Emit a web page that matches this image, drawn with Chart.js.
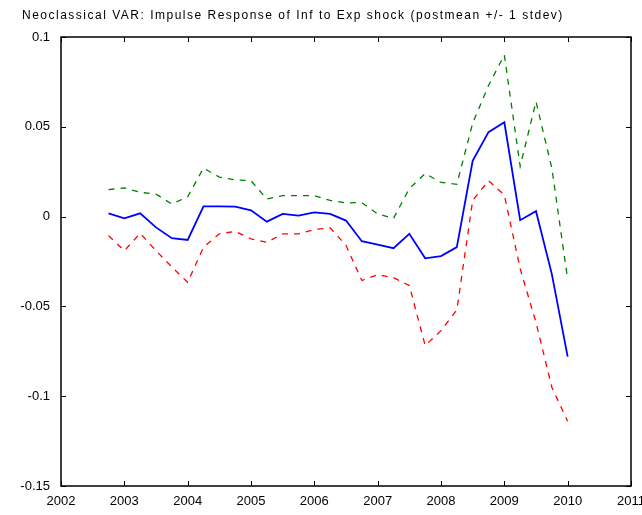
<!DOCTYPE html>
<html>
<head>
<meta charset="utf-8">
<script src="https://cdn.jsdelivr.net/npm/chart.js@4/dist/chart.umd.min.js"></script>
<style>
  html, body { margin: 0; padding: 0; background: #fff; }
  #wrap { width: 642px; height: 515px; }
</style>
</head>
<body>
<div id="wrap"><canvas id="irf"></canvas></div>
<script>
// quarterly horizon, 2002Q4 .. 2010Q1
const quarters = [2002.75, 2003, 2003.25, 2003.5, 2003.75, 2004, 2004.25, 2004.5, 2004.75, 2005,
                  2005.25, 2005.5, 2005.75, 2006, 2006.25, 2006.5, 2006.75, 2007, 2007.25, 2007.5,
                  2007.75, 2008, 2008.25, 2008.5, 2008.75, 2009, 2009.25, 2009.5, 2009.75, 2010];

const postMean = [0.0018, -0.001, 0.0018, -0.006, -0.012, -0.013, 0.0057, 0.0057, 0.0055, 0.0035,
                  -0.0028, 0.0015, 0.0006, 0.0024, 0.0015, -0.0022, -0.0137, -0.0156, -0.0176, -0.0096,
                  -0.0232, -0.022, -0.017, 0.031, 0.047, 0.0525, -0.002, 0.003, -0.032, -0.078];

const upperBand = [0.015, 0.016, 0.0135, 0.0125, 0.007, 0.011, 0.027, 0.022, 0.0205, 0.020,
                   0.0098, 0.0117, 0.0117, 0.0117, 0.009, 0.0076, 0.0078, 0.0015, -0.001, 0.0156,
                   0.024, 0.019, 0.018, 0.052, 0.073, 0.090, 0.028, 0.064, 0.027, -0.035];

const lowerBand = [-0.0106, -0.019, -0.0093, -0.019, -0.028, -0.0366, -0.017, -0.0096, -0.0082, -0.0124,
                   -0.0143, -0.0096, -0.0096, -0.0072, -0.0063, -0.016, -0.0356, -0.0323, -0.034, -0.0384,
                   -0.0718, -0.0635, -0.052, 0.009, 0.020, 0.012, -0.029, -0.059, -0.095, -0.114];

const yearTicks = [2002, 2003, 2004, 2005, 2006, 2007, 2008, 2009, 2010, 2011];
const respTicks = [-0.15, -0.1, -0.05, 0, 0.05, 0.1];

const titleText = "Neoclassical VAR: Impulse Response of Inf to Exp shock (postmean +/- 1 stdev)";

const pts = arr => arr.map((v, i) => ({ x: quarters[i], y: v }));

// frame + inward tick marks on all four sides, like the matlab plot
const frameTicks = {
  id: "frameTicks",
  afterDraw(chart) {
    const { ctx, chartArea: a, scales } = chart;
    const len = 5;
    ctx.save();
    ctx.strokeStyle = "#000";
    ctx.lineWidth = 1;
    ctx.beginPath();
    yearTicks.forEach(t => {
      const x = Math.round(scales.x.getPixelForValue(t)) + 0.5;
      ctx.moveTo(x, a.bottom); ctx.lineTo(x, a.bottom - len);
      ctx.moveTo(x, a.top); ctx.lineTo(x, a.top + len);
    });
    respTicks.forEach(v => {
      const y = Math.round(scales.y.getPixelForValue(v)) + 0.5;
      ctx.moveTo(a.left, y); ctx.lineTo(a.left + len, y);
      ctx.moveTo(a.right, y); ctx.lineTo(a.right - len, y);
    });
    ctx.stroke();
    ctx.lineWidth = 1.5;
    ctx.strokeRect(Math.round(a.left), Math.round(a.top), Math.round(a.right - a.left), Math.round(a.bottom - a.top));
    // title
    ctx.fillStyle = "#000";
    ctx.font = "12px 'Liberation Sans', Arial, sans-serif";
    ctx.letterSpacing = "1.5px";
    ctx.textBaseline = "middle";
    ctx.textAlign = "left";
    ctx.fillText(titleText, 22, 16);
    ctx.restore();
  }
};

new Chart("irf", {
  type: "line",
  data: {
    datasets: [
      {
        label: "upper",
        data: pts(upperBand),
        borderColor: "#008000",
        borderWidth: 1.3,
        borderDash: [6, 6]
      },
      {
        label: "postmean",
        data: pts(postMean),
        borderColor: "#0000ff",
        borderWidth: 1.8
      },
      {
        label: "lower",
        data: pts(lowerBand),
        borderColor: "#ff0000",
        borderWidth: 1.3,
        borderDash: [6, 6]
      }
    ]
  },
  options: {
    responsive: true,
    maintainAspectRatio: false,
    animation: false,
    elements: { point: { radius: 0 }, line: { tension: 0, fill: false } },
    layout: { padding: { top: 37, right: 11, left: 0, bottom: 0 } },
    plugins: { legend: { display: false }, tooltip: { enabled: false } },
    scales: {
      x: {
        type: "linear",
        min: 2002,
        max: 2011,
        afterBuildTicks: s => { s.ticks = yearTicks.map(v => ({ value: v })); },
        afterFit: s => { s.height = 29; s.paddingLeft = 0; s.paddingRight = 0; },
        grid: { display: false, drawTicks: false },
        border: { display: false },
        ticks: {
          color: "#000",
          padding: 8,
          maxRotation: 0,
          autoSkip: false,
          font: { family: "'Liberation Sans', Arial, sans-serif", size: 13 },
          callback: v => String(v)
        }
      },
      y: {
        type: "linear",
        min: -0.15,
        max: 0.1,
        afterBuildTicks: s => { s.ticks = respTicks.map(v => ({ value: v })); },
        afterFit: s => { s.width = 61; },
        grid: { display: false, drawTicks: false },
        border: { display: false },
        ticks: {
          color: "#000",
          padding: 11,
          font: { family: "'Liberation Sans', Arial, sans-serif", size: 13 },
          callback: v => String(+v.toFixed(2))
        }
      }
    }
  },
  plugins: [frameTicks]
});
</script>
</body>
</html>
